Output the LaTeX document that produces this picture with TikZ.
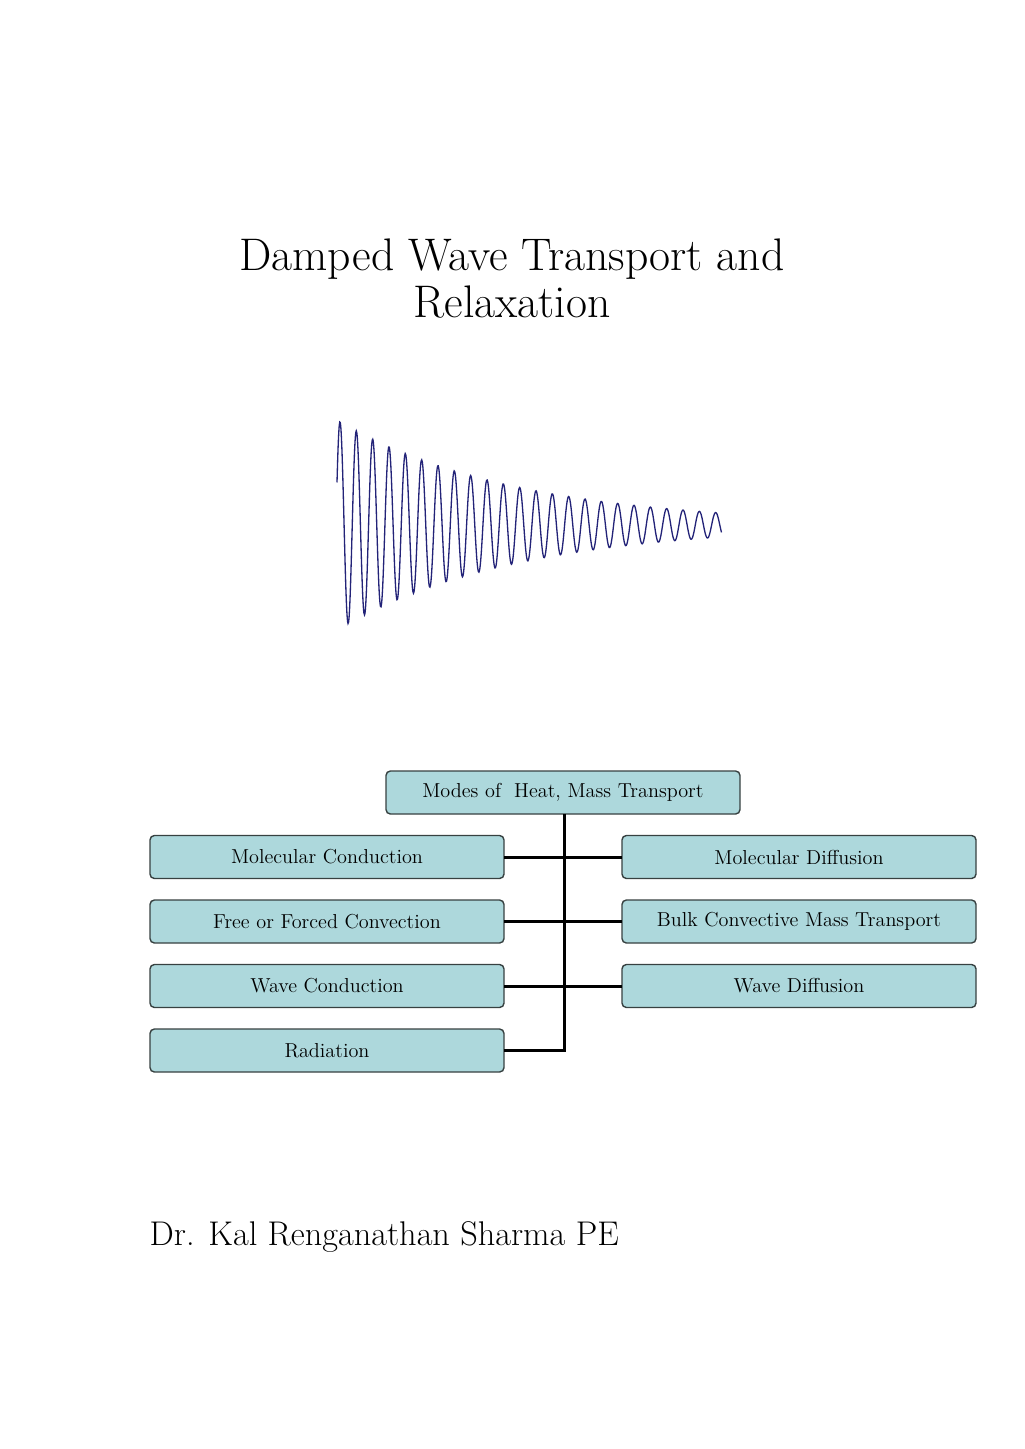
\documentclass[tikz,border=0pt]{standalone}
\usepackage{amsmath}
\usepackage{tikz}
\usetikzlibrary{positioning}
\definecolor{boxfill}{RGB}{173,216,220}
\definecolor{boxline}{RGB}{55,65,65}
\definecolor{wavecol}{RGB}{35,35,120}
\tikzset{
  modebox/.style={draw=boxline, fill=boxfill, line width=0.8pt, rounded corners=2.5pt,
    minimum width=7.08cm, minimum height=0.86cm, inner sep=0pt, outer sep=0pt,
    font=\fontsize{11.5}{13}\selectfont},
  link/.style={line width=1.7pt}
}
\begin{document}
\begin{tikzpicture}
          \useasboundingbox (0,0) rectangle (20.48,-28.98);
          % title
          \node[align=center, font=\fontsize{26}{27}\selectfont] (title) at (10.24,-5.57) {Damped Wave Transport and\\Relaxation};
          % damped wave
          \draw[wavecol, line width=0.75pt, domain=6.74:14.44, samples=700, smooth]
            plot ({\x},{-10.5 + 2.1*exp(-0.2817*(\x-6.74))*sin(360*(\x-6.80)/0.3267 + 90)});
          % modes
          \node[modebox] (modes) at (11.26,-15.85) {Modes of \ Heat, Mass Transport};
          \node[modebox] (mc) at (6.54,-17.14) {Molecular Conduction};
          \node[modebox, below=0.43cm of mc] (fc) {Free or Forced Convection};
          \node[modebox, below=0.43cm of fc] (wc) {Wave Conduction};
          \node[modebox, below=0.43cm of wc] (rad) {Radiation};
          \node[modebox, right=2.36cm of mc] (md) {Molecular Diffusion};
          \node[modebox, right=2.36cm of fc] (bc) {Bulk Convective Mass Transport};
          \node[modebox, right=2.36cm of wc] (wd) {Wave Diffusion};
          \coordinate (spine) at (11.28,-15.85);
          \draw[link] (modes.south -| spine) -- (spine |- rad.east) -- (rad.east);
          \draw[link] (mc.east) -- (md.west);
          \draw[link] (fc.east) -- (bc.west);
          \draw[link] (wc.east) -- (wd.west);
          % author
          \node[anchor=west, font=\fontsize{19.5}{21}\selectfont] (author) at (2.87,-24.74) {Dr. Kal Renganathan Sharma PE};
        \end{tikzpicture}
\end{document}
